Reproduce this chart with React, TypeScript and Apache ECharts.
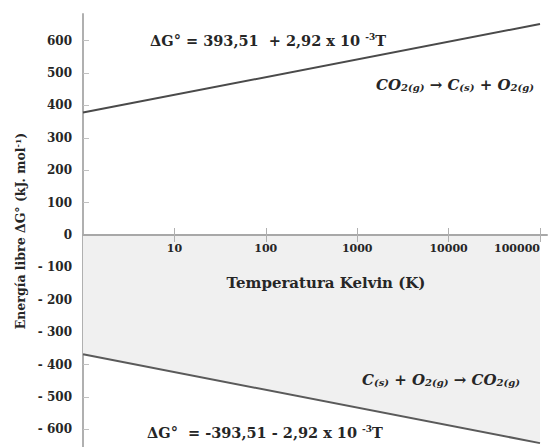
import React, { useEffect, useRef } from "react";
import * as echarts from "echarts";

const temperatures = [1, 100000];
const formationUp = [378, 651]; // CO2 -> C + O2
const formationDown = [-368, -642]; // C + O2 -> CO2
const xTickValues = [10, 100, 1000, 10000, 100000];
const yTickValues = [-600, -500, -400, -300, -200, -100, 0, 100, 200, 300, 400, 500, 600];

const FONT = "'DejaVu Serif', 'Liberation Serif', serif";
const INK = "#262626";

export default function App() {
  const ref = useRef<HTMLDivElement>(null);
  useEffect(() => {
    if (!ref.current) return;
    const chart = echarts.init(ref.current, undefined, { renderer: "svg" });
    const xBase = {
      type: "log",
      min: 1,
      max: 119300,
      logBase: 10,
      splitLine: { show: false },
    };
    const supStyle = { fontSize: 9, fontFamily: FONT, fontWeight: "bold", verticalAlign: "top", fill: INK };
    const subStyle = { fontSize: 10, fontFamily: FONT, fontStyle: "italic", fontWeight: "bold", verticalAlign: "bottom", fill: INK };
    chart.setOption({
      animation: false,
      backgroundColor: "#ffffff",
      grid: { left: 83, right: 6, top: 14, bottom: 0, outerBoundsMode: "none", containLabel: false },
      xAxis: [
        {
          ...xBase,
          position: "top",
          offset: -221,
          axisLine: { show: true, onZero: false, lineStyle: { color: "#a8a8a8", width: 2 } },
          axisTick: {
            show: true,
            inside: false,
            length: 7,
            customValues: xTickValues,
            lineStyle: { color: "#b0b0b0", width: 1 },
          },
          axisLabel: { show: false },
          z: 5,
        },
        {
          ...xBase,
          position: "bottom",
          offset: -212,
          axisLine: { show: false, onZero: false },
          axisTick: {
            show: true,
            inside: false,
            length: 7,
            customValues: xTickValues,
            lineStyle: { color: "#b0b0b0", width: 1 },
          },
          axisLabel: {
            show: true,
            customValues: xTickValues,
            margin: 8,
            fontFamily: FONT,
            fontWeight: "bold",
            fontSize: 11,
            color: INK,
            alignMaxLabel: "right",
            formatter: (v: number) => String(Math.round(v)),
          },
          z: 5,
        },
      ],
      yAxis: {
        type: "value",
        min: -654,
        max: 682,
        splitLine: { show: false },
        axisLine: { show: true, onZero: false, lineStyle: { color: "#b0b0b0", width: 2 } },
        axisTick: {
          show: true,
          inside: true,
          length: 6,
          customValues: yTickValues,
          lineStyle: { color: "#c0c0c0", width: 1 },
        },
        axisLabel: {
          customValues: yTickValues,
          margin: 11,
          fontFamily: FONT,
          fontWeight: "bold",
          fontSize: 12,
          color: INK,
          formatter: (v: number) => (v < 0 ? "- " + -v : String(v)),
        },
      },
      series: [
        {
          type: "line",
          xAxisIndex: 0,
          data: temperatures.map((t, i) => [t, formationUp[i]]),
          symbol: "none",
          lineStyle: { color: "#4a4a4a", width: 2 },
          z: 3,
        },
        {
          type: "line",
          xAxisIndex: 0,
          data: temperatures.map((t, i) => [t, formationDown[i]]),
          symbol: "none",
          lineStyle: { color: "#5a5a5a", width: 2 },
          areaStyle: { color: "#f0f0f0", opacity: 1, origin: "auto" },
          z: 2,
        },
      ],
      graphic: [
        {
          type: "text",
          z: 100,
          x: 20,
          y: 231,
          rotation: Math.PI / 2,
          style: {
            text: "Energía libre ΔG° (kJ. mol{sup|-1})",
            font: `bold 12.5px ${FONT}`,
            fill: INK,
            align: "center",
            verticalAlign: "middle",
            rich: { sup: { ...supStyle, fontSize: 8 } },
          },
        },
        {
          type: "text",
          z: 100,
          x: 326,
          y: 283,
          style: {
            text: "Temperatura Kelvin (K)",
            font: `bold 15px ${FONT}`,
            fill: INK,
            align: "center",
            verticalAlign: "middle",
          },
        },
        {
          type: "text",
          z: 100,
          x: 150,
          y: 40,
          style: {
            text: "ΔG° = 393,51  + 2,92 x 10 {sup|-3}T",
            font: `bold 14.5px ${FONT}`,
            fill: INK,
            align: "left",
            verticalAlign: "middle",
            rich: { sup: supStyle },
          },
        },
        {
          type: "text",
          z: 100,
          x: 147,
          y: 432,
          style: {
            text: "ΔG°  = -393,51 - 2,92 x 10 {sup|-3}T",
            font: `bold 14.5px ${FONT}`,
            fill: INK,
            align: "left",
            verticalAlign: "middle",
            rich: { sup: supStyle },
          },
        },
        {
          type: "text",
          z: 100,
          x: 376,
          y: 85,
          style: {
            text: "CO{sub|2(g)} → C{sub|(s)} + O{sub|2(g)}",
            font: `italic bold 15px ${FONT}`,
            fill: INK,
            align: "left",
            verticalAlign: "middle",
            rich: { sub: subStyle },
          },
        },
        {
          type: "text",
          z: 100,
          x: 362,
          y: 380,
          style: {
            text: "C{sub|(s)} + O{sub|2(g)} → CO{sub|2(g)}",
            font: `italic bold 15px ${FONT}`,
            fill: INK,
            align: "left",
            verticalAlign: "middle",
            rich: { sub: subStyle },
          },
        },
      ],
    });
    return () => chart.dispose();
  }, []);
  return (
    <div
      ref={ref}
      style={{ position: "fixed", left: 0, top: 0, width: 553, height: 447 }}
    />
  );
}
